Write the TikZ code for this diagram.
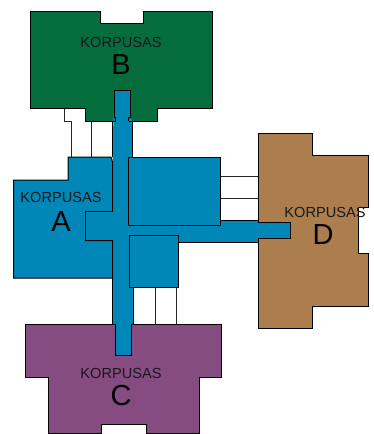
\documentclass[tikz,border=0pt]{standalone}
\usepackage{fontspec}
\setmainfont{Liberation Sans}
\definecolor{bgreen}{HTML}{056C3E}
\definecolor{ablue}{HTML}{0087B7}
\definecolor{dbrown}{HTML}{AC7E4E}
\definecolor{cpurple}{HTML}{864B80}
\tikzset{
  outline/.style={draw=black,line width=1pt,line join=miter},
  linkline/.style={draw=black!85,line width=0.9pt},
  small/.style={font=\fontsize{14.6}{16}\selectfont,text=black!90,inner sep=0pt},
  big/.style={font=\fontsize{29}{30}\selectfont,text=black,inner sep=0pt}
}
\begin{document}
\begin{tikzpicture}[x=1pt,y=-1pt]
\useasboundingbox (0,0) rectangle (373,434);
% links
\draw[linkline] (64.5,108) -- (64.5,121) -- (71,121) -- (71,157);
\draw[linkline] (91,121) -- (91,157);
\draw[linkline] (220,176) -- (259,176);
\draw[linkline] (220,198) -- (259,198);
\draw[linkline] (220,220) -- (259,220);
\draw[linkline] (133.5,287) -- (133.5,324);
\draw[linkline] (155.5,287) -- (155.5,324);
\draw[linkline] (176,287) -- (176,324);
% buildings
\draw[outline,fill=bgreen] (30.5,11.5) -- (100,11.5) -- (100,23) -- (143.5,23) -- (143.5,11.5) -- (212.5,11.5) -- (212.5,108.5) -- (157,108.5) -- (157,121) -- (85,121) -- (85,108.5) -- (30.5,108.5) -- cycle;
\draw[outline,fill=cpurple] (25.7,324) -- (221.7,324) -- (221.7,377.7) -- (199.3,377.7) -- (199.3,433) -- (146,433) -- (146,424) -- (101,424) -- (101,433) -- (48,433) -- (48,377.7) -- (25.7,377.7) -- cycle;
\draw[outline,fill=dbrown] (258.7,133.3) -- (312.3,133.3) -- (312.3,155) -- (368.3,155) -- (368.3,207) -- (358.3,207) -- (358.3,253) -- (368.3,253) -- (368.3,306) -- (312.3,306) -- (312.3,328) -- (258.7,328) -- cycle;
% corridors
\fill[ablue] (114,90) -- (130,90) -- (130,117) -- (132.5,121) -- (132.5,157) -- (128.5,157) -- (128.5,225.5) -- (220,225.5) -- (220,220) -- (258.7,220) -- (258.7,222.8) -- (290,222.8) -- (290,238.8) -- (258.7,238.8) -- (258.7,242.7) -- (178,242.7) -- (178,235) -- (129.7,235) -- (129.7,287) -- (133,287) -- (133,324) -- (131,324) -- (131,355.5) -- (115,355.5) -- (115,324) -- (112.5,324) -- (112.5,162) -- cycle;
\draw[outline] (114,117) -- (114,90) -- (130,90) -- (130,117) -- (128.5,117) -- (128.5,121);
\draw[outline] (114,117) -- (115.5,117) -- (115.5,121) -- (112,121) -- (112,157);
\draw[outline] (128.5,121) -- (132.5,121) -- (132.5,157);
\draw[outline] (112,324) -- (112,278);
\draw[outline] (133.5,287) -- (133.5,324) -- (131,324) -- (131,355.5) -- (115,355.5) -- (115,324);
\draw[outline] (220,220) -- (258.7,220) -- (258.7,222.8) -- (290,222.8) -- (290,238.8) -- (258.7,238.8) -- (258.7,242.7) -- (178,242.7);
\fill[ablue] (85,211) rectangle (114,241);
\draw[outline,fill=ablue] (112.5,211.7) -- (85.5,211.7) -- (85.5,240.7) -- (112.5,240.7) -- (112.5,278) -- (13.5,278) -- (13.5,180) -- (68,180) -- (68,157) -- (111,157) -- (112.5,162) -- cycle;
\fill[ablue] (86,212.2) rectangle (114,240.2);
\draw[outline,fill=ablue] (128.5,157) rectangle (220,225.5);
\draw[outline,fill=ablue] (129.7,235) rectangle (178,287);
% labels
\node[small] (labB) at (121,42) {KORPUSAS};
\node[big] (letB) at (121,65) {B};
\node[small] (labA) at (61,197) {KORPUSAS};
\node[big] (letA) at (61,222) {A};
\node[small] (labD) at (325,212) {KORPUSAS};
\node[big] (letD) at (323,235) {D};
\node[small] (labC) at (121,373) {KORPUSAS};
\node[big] (letC) at (121,396) {C};
\end{tikzpicture}
\end{document}
